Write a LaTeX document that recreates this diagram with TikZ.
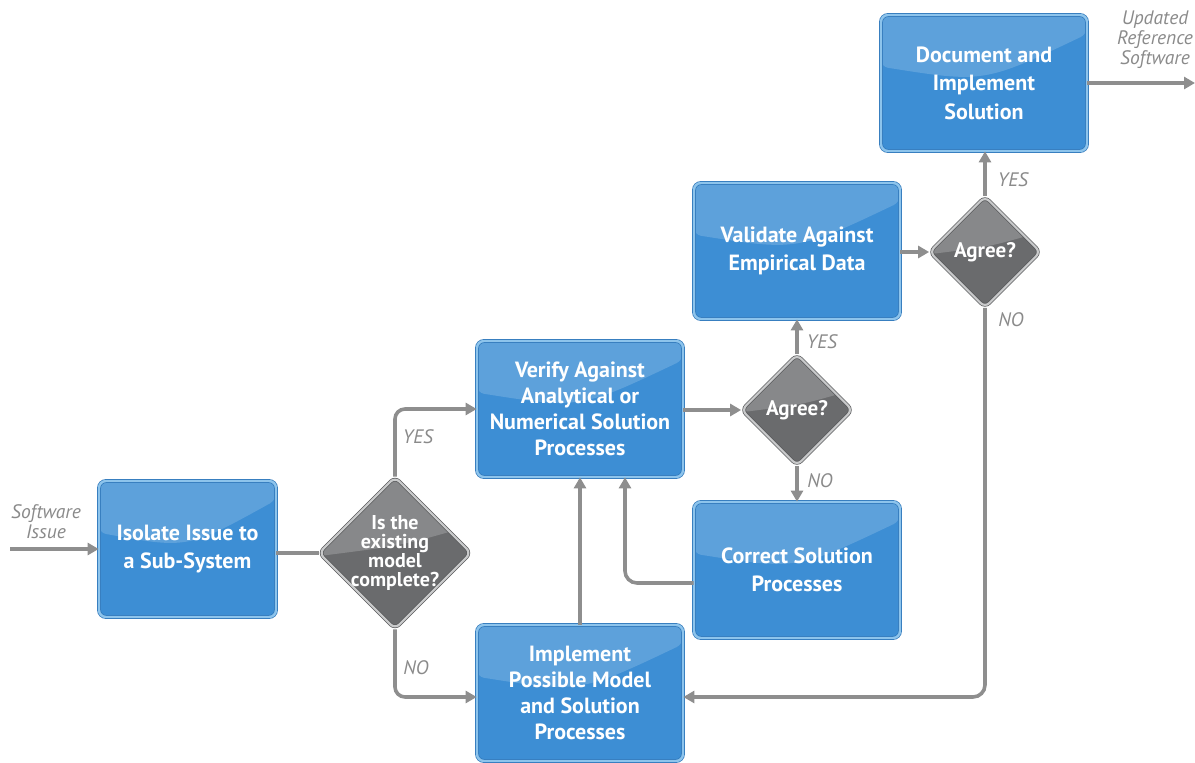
\documentclass[tikz,border=0pt]{standalone}
\usepackage{fontspec}
\setmainfont{PT Sans}
\usetikzlibrary{shapes.geometric,arrows.meta,calc}
\definecolor{boxfill}{HTML}{3D8ED4}
\definecolor{boxrim}{HTML}{8DC4EC}
\definecolor{boxedge}{HTML}{2C76BA}
\definecolor{dfill}{HTML}{6A6B6D}
\definecolor{drim}{HTML}{C9CACB}
\definecolor{dedge}{HTML}{58595B}
\definecolor{conn}{HTML}{8E8E8E}
\definecolor{lbl}{HTML}{8A8A8A}
\begin{document}
\begin{tikzpicture}[x=1pt,y=-1pt,
  box/.style={rectangle, rounded corners=7pt, draw=boxedge, line width=0.7pt,
    double=boxrim, double distance=2.4pt, fill=boxfill,
    minimum width=206pt, minimum height=136pt, text=white,
    font=\bfseries\fontsize{22}{28.5}\selectfont, align=center, inner sep=0pt,
    path picture={\fill[white,opacity=0.17]
      (path picture bounding box.north west) -- (path picture bounding box.north east)
      -- ($(path picture bounding box.north east)!0.14!(path picture bounding box.south east)$)
      .. controls ($(path picture bounding box.north east)!0.5!(path picture bounding box.south west)$)
      .. ($(path picture bounding box.north west)!0.38!(path picture bounding box.south west)$) -- cycle;}},
  tight/.style={font=\bfseries\fontsize{22}{26}\selectfont},
  dia/.style={diamond, aspect=1, rounded corners=6pt, draw=dedge, line width=0.7pt,
    double=drim, double distance=2.2pt, fill=dfill, inner sep=0pt,
    path picture={\fill[white,opacity=0.2]
      (path picture bounding box.north west) -- (path picture bounding box.north east)
      -- ($(path picture bounding box.north east)!0.32!(path picture bounding box.south east)$)
      .. controls ($(path picture bounding box.north east)!0.45!(path picture bounding box.south west)$)
      .. ($(path picture bounding box.north west)!0.52!(path picture bounding box.south west)$) -- cycle;}},
  dtext/.style={text=white, font=\bfseries\fontsize{21}{22}\selectfont, align=center},
  arr/.style={draw=conn, line width=3.6pt, -{Triangle[length=11pt,width=12pt]}},
  plain/.style={draw=conn, line width=3.6pt},
  yn/.style={text=lbl, font=\itshape\fontsize{19.5}{20}\selectfont, align=center}
]
\useasboundingbox (0,0) rectangle (1195,763);

% boxes
\node[box, minimum width=177pt] (iso) at (187.5,549) {Isolate Issue to\\a Sub-System};
\node[box, tight] (ver) at (580,409) {Verify Against\\Analytical or\\Numerical Solution\\Processes};
\node[box] (val) at (797,251) {Validate Against\\Empirical Data};
\node[box] (doc) at (984,83) {Document and\\Implement\\Solution};
\node[box] (cor) at (797,570) {Correct Solution\\Processes};
\node[box, tight] (imp) at (580,693) {Implement\\Possible Model\\and Solution\\Processes};

% decisions
\node[dia, minimum width=152pt, minimum height=152pt,
  label={[dtext, font=\bfseries\fontsize{20}{19}\selectfont]center:Is the\\existing\\model\\complete?}] (d1) at (395,553) {};
\node[dia, minimum width=111pt, minimum height=111pt,
  label={[dtext]center:Agree?}] (d2) at (797,410) {};
\node[dia, minimum width=111pt, minimum height=111pt,
  label={[dtext]center:Agree?}] (d3) at (985,252) {};

% free ends
\coordinate (si) at (10,549);
\coordinate (out) at (1195,83);

% connectors
\draw[arr] (si) -- (iso.west);
\draw[plain] (iso.east |- d1.west) -- (d1.west);
\draw[arr, rounded corners=10pt] (d1.north) |- (ver.west);
\draw[arr, rounded corners=10pt] (d1.south) |- ([yshift=-4pt]imp.west);
\draw[arr] (d2.west -| ver.east) -- (d2.west);
\draw[arr] (d2.north) -- (val.south);
\draw[arr] (d2.south) -- (cor.north);
\draw[arr] (d3.west -| val.east) -- (d3.west);
\draw[arr] (d3.north) -- (d3.north |- doc.south);
\draw[arr, rounded corners=12pt] (d3.south) |- ([yshift=-4pt]imp.east);
\draw[arr] (imp.north) -- (ver.south);
\draw[arr, rounded corners=12pt] ([yshift=-13pt]cor.west) -| ([xshift=45pt]ver.south);
\draw[arr] (doc.east) -- (out);

% labels
\node[yn] (lsi) at (46,522) {Software\\Issue};
\node[yn] (lout) at (1155,40) {Updated\\Reference\\Software};
\node[yn] (y1) at (418,437) {YES};
\node[yn] (n1) at (416,668) {NO};
\node[yn] (y2) at (822,342) {YES};
\node[yn] (n2) at (820,481) {NO};
\node[yn] (y3) at (1013,180) {YES};
\node[yn] (n3) at (1011,320) {NO};
\end{tikzpicture}
\end{document}
